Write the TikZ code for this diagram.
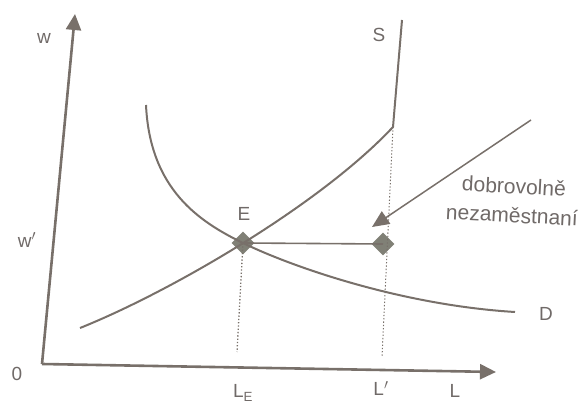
\documentclass[tikz,border=0pt]{standalone}
\usepackage{fontspec}
\setmainfont{Liberation Sans}
\usetikzlibrary{arrows.meta,shapes.geometric}
\definecolor{ink}{RGB}{120,112,106}
\definecolor{txt}{RGB}{112,106,104}
\definecolor{dia}{RGB}{128,128,118}
\begin{document}
\begin{tikzpicture}[x=1pt,y=-1pt,
  axis/.style={draw=ink,line width=2.6pt,-{Triangle[length=16pt,width=15pt]}},
  curve/.style={draw=ink,line width=2pt},
  guide/.style={draw=ink,line width=1.3pt,dotted},
  lbl/.style={text=txt,font=\fontsize{19}{22}\selectfont,inner sep=0pt},
  pt/.style={diamond,fill=dia,minimum width=23pt,minimum height=23pt,inner sep=0pt}]
\useasboundingbox (0,0) rectangle (587,403);
% coordinates
\coordinate (O) at (42,364);
\coordinate (Ytip) at (75,14);
\coordinate (Xtip) at (496,372);
\coordinate (Sstart) at (80,328);
\coordinate (K) at (393,127);
\coordinate (Stop) at (402,20);
\coordinate (Dstart) at (146,105);
\coordinate (Dend) at (515,312);
\coordinate (LEb) at (237,352);
\coordinate (Lpb) at (382,357);
\coordinate (Atail) at (531,120);
% axes
\draw[axis] (O) -- (Ytip);
\draw[axis] (O) -- (Xtip);
% points
\node[pt] (E) at (243,243) {};
\node[pt] (P) at (383,244) {};
% curves
\draw[curve,line join=round] (Sstart) .. controls (170,292) and (320,205) .. (K) -- (Stop);
\draw[curve] (Dstart) .. controls (150,190) and (200,222) .. (E.center)
  .. controls (290,266) and (400,305) .. (Dend);
\draw[curve,line width=1.6pt] (E.center) -- (P.center);
% guides
\draw[guide] (E.center) -- (LEb);
\draw[guide,line width=1pt] (K) -- (Lpb);
% arrow
\draw[draw=ink,line width=1.5pt,-{Triangle[length=17pt,width=15pt]}] (Atail) -- (372,227);
% labels
\node[lbl] (lw) at (44,38) {w};
\node[lbl] (lwp) at (27,240) {w$'$};
\node[lbl] (l0) at (17,374) {0};
\node[lbl] (lE) at (244,214) {E};
\node[lbl] (lS) at (379,35) {S};
\node[lbl] (lD) at (546,314) {D};
\node[lbl,anchor=base] (lLE) at (243,398) {L\textsubscript{E}};
\node[lbl,anchor=base] (lLp) at (381,396) {L$'$};
\node[lbl,anchor=base] (lL) at (455,398) {L};
\node[lbl,rotate=-3,font=\fontsize{21}{24}\selectfont] (t1) at (514,186) {dobrovolně};
\node[lbl,rotate=-3,font=\fontsize{21}{24}\selectfont] (t2) at (512,215) {nezaměstnaní};
\end{tikzpicture}
\end{document}
